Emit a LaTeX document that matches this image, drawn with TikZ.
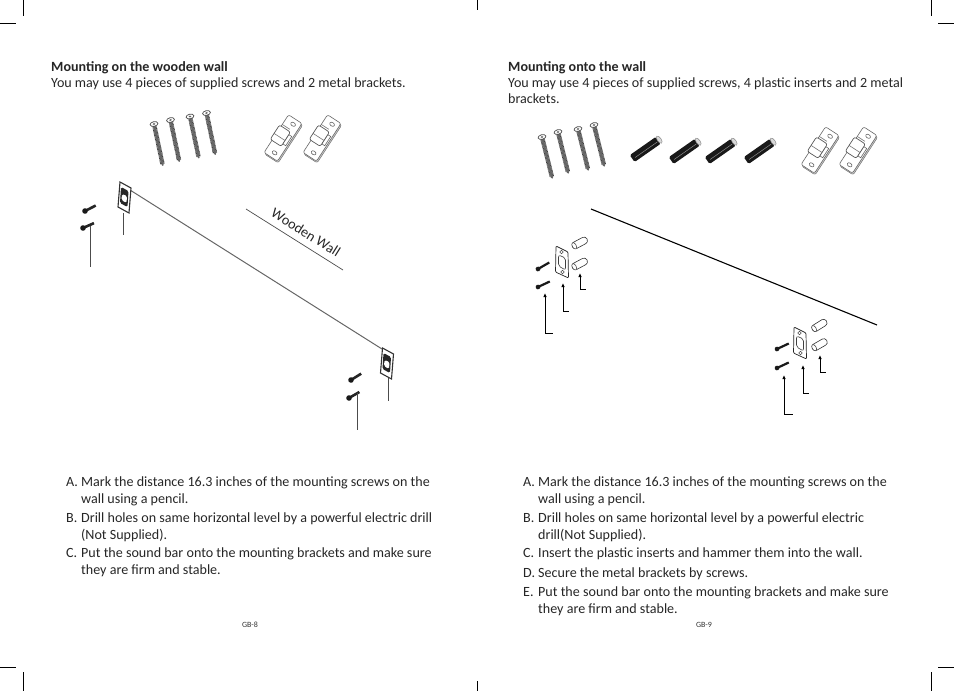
\documentclass[tikz,border=0pt]{standalone}
\usepackage{fontspec}
\setmainfont{Carlito}
\usetikzlibrary{arrows.meta,positioning,calc}

\begin{document}
\begin{tikzpicture}[
    x=1pt, y=-1pt,
    body/.style={anchor=base west, inner sep=0pt, yshift=-.7pt, font=\fontsize{14.08}{16}\selectfont, text=black!85},
    pageno/.style={anchor=center, inner sep=0pt, font=\fontsize{8}{9}\selectfont, text=black!80},
    crop/.style={line width=.7pt},
    leader/.style={line width=1pt, black!70},
    pointer/.style={line width=.9pt, {Latex[length=4pt,width=3.5pt]}-},
    longscrew/.pic={
        \draw[line width=4.4pt, black!75, dash pattern=on .8pt off .5pt] (0,2) -- (0,41);
        \draw[line width=1.8pt, black!60, line cap=round] (0,1) -- (0,42);
        \draw[black!70, fill=white, line width=.7pt] (0,0) ellipse (4 and 2.3);
        \fill[black!60] (0,0) ellipse (1.4 and .9);
    },
    bracket/.pic={
        \draw[black!55, fill=black!20, rounded corners=2pt, line width=.5pt] (-6.5,-21.5) rectangle (9.5,23.5);
        \draw[black!60, fill=white, rounded corners=2pt, line width=.6pt] (-8,-22.5) rectangle (8,22.5);
        \draw[black!60, line width=.6pt] (1,-17) ellipse (2.6 and 1.8) (1,17) ellipse (2.6 and 1.8);
        \draw[black!60, fill=white, line width=.6pt] (3,-6) rectangle (6.5,5);
        \draw[black!65, fill=white, rounded corners=2pt, line width=.7pt] (-10,-9) rectangle (3,8);
        \draw[black!55, line width=.6pt] (-10,1) -- (3,1) (-8,-11) -- (1,-11);
    },
    plug/.pic={
        \fill[black!90, rounded corners=1.5pt] (-1,-4.2) rectangle (31,4.2);
        \draw[line width=.5pt, black!45] (2,.8) -- (29,.8);
        \draw[black!45, fill=black!15, line width=.5pt] (32,0) ellipse (2 and 4.2);
    },
    darkbracket/.pic={
        \draw[black!80, fill=white, line width=1.1pt] (-4.5,-15) -- (6.5,-9) -- (4.5,16) -- (-6.5,10) -- cycle;
        \fill[black!85, rounded corners=1.5pt] (-3.5,-10) -- (4,-6) -- (3,10) -- (-4.5,6) -- cycle;
        \fill[white, rounded corners=1.5pt] (-2.5,-3) -- (2.5,-1) -- (2,6) -- (-3,3) -- cycle;
    },
    darkscrew/.pic={
        \draw[line width=2.6pt, black!85] (0,0) -- (12,0);
        \fill[black!90] (0,0) circle (2.8);
    },
    anchorplate/.pic={
        \draw[black!85, fill=white, line width=.7pt, rounded corners=1pt] (-6,-16) -- (6,-10) -- (6.5,16) -- (-6.5,10) -- cycle;
        \draw[black!75, line width=.6pt, rounded corners=2pt] (-3.5,-7) -- (3.5,-4) -- (3.5,8) -- (-3.5,4) -- cycle;
        \draw[black!70, line width=.5pt] (-.5,-10) circle (1.8) (.5,10) circle (1.8);
    },
    sleeve/.pic={
        \draw[black!80, fill=white, line width=.6pt, rounded corners=3.2pt] (.5,-3.5) rectangle (17,3.5);
        \draw[black!80, fill=white, line width=.5pt] (2.5,0) ellipse (2 and 3.5);
    },
    smallscrew/.pic={
        \draw[line width=2.2pt, black!90] (0,0) -- (13,0);
        \fill[black!90] (0,0) circle (2.4);
    }
]
    \useasboundingbox (0,0) rectangle (954,691);

    % crop marks
    \draw[crop] (0,23.5) -- (16,23.5) (23.5,0) -- (23.5,16) (477,0) -- (477,10) (931,0) -- (931,16) (938,23.5) -- (954,23.5);
    \draw[crop] (0,667) -- (16,667) (23.5,672) -- (23.5,691) (477,681) -- (477,691) (931,672) -- (931,691) (938,667) -- (954,667);

    % left page text
    \node[body, font=\fontsize{14.08}{16}\selectfont\bfseries] (lhead) at (51,71) {Mounting on the wooden wall};
    \node[body] (lsub) at (51,86.5) {You may use 4 pieces of supplied screws and 2 metal brackets.};
    \node[body] (la) at (66,485.5) {A.};
    \node[body] (la1) at (81,485.5) {Mark the distance 16.3 inches of the mounting screws on the};
    \node[body] (la2) at (81,502.5) {wall using a pencil.};
    \node[body] (lb) at (66,521.5) {B.};
    \node[body] (lb1) at (81,521.5) {Drill holes on same horizontal level by a powerful electric drill};
    \node[body] (lb2) at (81,538.5) {(Not Supplied).};
    \node[body] (lc) at (66,556.5) {C.};
    \node[body] (lc1) at (81,556.5) {Put the sound bar onto the mounting brackets and make sure};
    \node[body] (lc2) at (81,573.5) {they are firm and stable.};
    \node[pageno] (lpage) at (250,625) {GB-8};

    % right page text
    \node[body, font=\fontsize{14.08}{16}\selectfont\bfseries] (rhead) at (508,71) {Mounting onto the wall};
    \node[body] (rsub) at (508,86.5) {You may use 4 pieces of supplied screws, 4 plastic inserts and 2 metal};
    \node[body] (rsub2) at (508,102.5) {brackets.};
    \node[body] (ra) at (523,485.5) {A.};
    \node[body] (ra1) at (538,485.5) {Mark the distance 16.3 inches of the mounting screws on the};
    \node[body] (ra2) at (538,502.5) {wall using a pencil.};
    \node[body] (rb) at (523,521.5) {B.};
    \node[body] (rb1) at (538,521.5) {Drill holes on same horizontal level by a powerful electric};
    \node[body] (rb2) at (538,538.5) {drill(Not Supplied).};
    \node[body] (rc) at (523,556.5) {C.};
    \node[body] (rc1) at (538,556.5) {Insert the plastic inserts and hammer them into the wall.};
    \node[body] (rd) at (523,576.5) {D.};
    \node[body] (rd1) at (538,576.5) {Secure the metal brackets by screws.};
    \node[body] (re) at (523,595.5) {E.};
    \node[body] (re1) at (538,595.5) {Put the sound bar onto the mounting brackets and make sure};
    \node[body] (re2) at (538,612.5) {they are firm and stable.};
    \node[pageno] (rpage) at (704,625) {GB-9};

    % left page parts
    \pic[rotate=12] at (154,124) {longscrew};
    \pic[rotate=12] at (170.5,120) {longscrew};
    \pic[rotate=12] at (190,116.5) {longscrew};
    \pic[rotate=12] at (206.5,113) {longscrew};
    \pic[rotate=-33] at (283,138) {bracket};
    \pic[rotate=-33] at (322,138) {bracket};

    % wooden wall
    \coordinate (lwall1) at (130,190);
    \coordinate (lwall2) at (382,349);
    \draw[black!60, line width=1pt] (lwall1) -- (lwall2);
    \coordinate (wood1) at (246,209);
    \coordinate (wood2) at (343,270);
    \draw[black!70, line width=.7pt] (wood1) -- (wood2);
    \node[rotate=-32, inner sep=0pt, font=\fontsize{14.3}{16}\selectfont, text=black!85] (woodlabel) at (306,232.5) {Wooden Wall};

    \pic at (124.5,197) {darkbracket};
    \pic[rotate=27] at (85,211) {darkscrew};
    \pic[rotate=24] at (83,228) {darkscrew};
    \coordinate (lb1top) at (123,213);
    \coordinate (lb1end) at (123,235);
    \draw[leader] (lb1top) -- (lb1end);
    \coordinate (ls1top) at (90,226);
    \coordinate (ls1end) at (90,267);
    \draw[leader] (ls1top) -- (ls1end);

    \pic at (387,363) {darkbracket};
    \pic[rotate=32] at (351,380) {darkscrew};
    \pic[rotate=30] at (349,398) {darkscrew};
    \coordinate (lb2top) at (388.5,378);
    \coordinate (lb2end) at (388.5,401);
    \draw[leader] (lb2top) -- (lb2end);
    \coordinate (ls2top) at (357,393);
    \coordinate (ls2end) at (357,430);
    \draw[leader] (ls2top) -- (ls2end);

    % right page parts
    \pic[rotate=14] at (542,137) {longscrew};
    \pic[rotate=14] at (558,132) {longscrew};
    \pic[rotate=14] at (578,129) {longscrew};
    \pic[rotate=14] at (594,125) {longscrew};
    \pic[rotate=35] at (633,158) {plug};
    \pic[rotate=35] at (672,160) {plug};
    \pic[rotate=35] at (708,160) {plug};
    \pic[rotate=35] at (747,160) {plug};
    \pic[rotate=-33] at (820,150) {bracket};
    \pic[rotate=-33] at (858,150) {bracket};

    % wall line
    \coordinate (rwall1) at (591,209);
    \coordinate (rwall2) at (877,325);
    \draw[line width=1.1pt] (rwall1) -- (rwall2);

    % left cluster
    \pic[rotate=28] at (572,247) {sleeve};
    \pic[rotate=28] at (572,268) {sleeve};
    \pic at (562,262) {anchorplate};
    \pic[rotate=30] at (538,269) {smallscrew};
    \pic[rotate=25] at (538,287) {smallscrew};
    \coordinate (c1tip) at (580,273);
    \coordinate (c1bend) at (580,289);
    \coordinate (c1end) at (586,289);
    \draw[pointer] (c1tip) -- (c1bend) -- (c1end);
    \coordinate (c2tip) at (563,283);
    \coordinate (c2bend) at (563,311);
    \coordinate (c2end) at (569,311);
    \draw[pointer] (c2tip) -- (c2bend) -- (c2end);
    \coordinate (c3tip) at (545,293);
    \coordinate (c3bend) at (545,333);
    \coordinate (c3end) at (553,333);
    \draw[pointer] (c3tip) -- (c3bend) -- (c3end);

    % right cluster
    \pic[rotate=32] at (812,330) {sleeve};
    \pic[rotate=30] at (812,349) {sleeve};
    \pic at (800,343) {anchorplate};
    \pic[rotate=25] at (777,349) {smallscrew};
    \pic[rotate=25] at (777,368) {smallscrew};
    \coordinate (d1tip) at (820,355);
    \coordinate (d1bend) at (820,372);
    \coordinate (d1end) at (826,372);
    \draw[pointer] (d1tip) -- (d1bend) -- (d1end);
    \coordinate (d2tip) at (803,365);
    \coordinate (d2bend) at (803,393);
    \coordinate (d2end) at (809,393);
    \draw[pointer] (d2tip) -- (d2bend) -- (d2end);
    \coordinate (d3tip) at (784,375);
    \coordinate (d3bend) at (784,414);
    \coordinate (d3end) at (793,414);
    \draw[pointer] (d3tip) -- (d3bend) -- (d3end);
\end{tikzpicture}
\end{document}
